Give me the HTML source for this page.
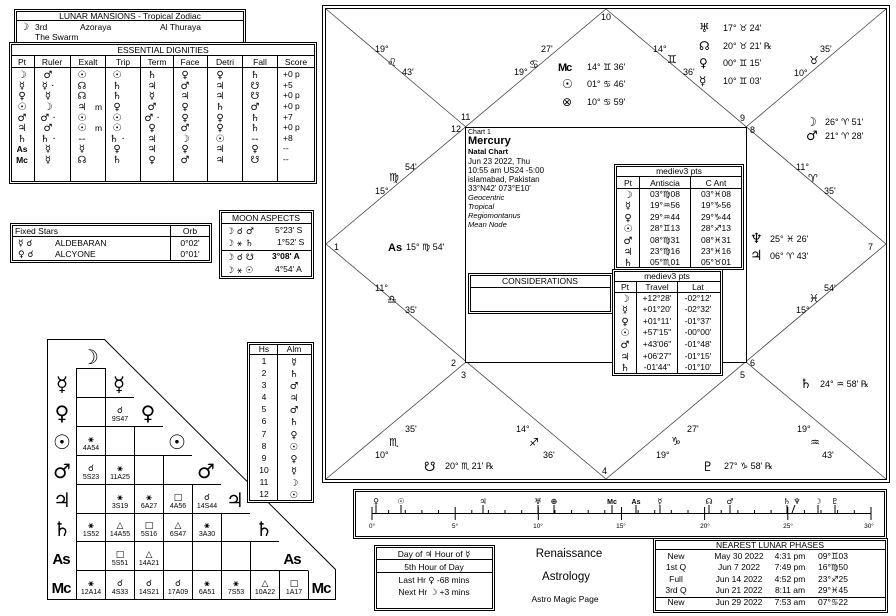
<!DOCTYPE html>
<html><head><meta charset="utf-8"><style>
html,body{margin:0;padding:0;background:#fff;}
svg{display:block;font-family:"Liberation Sans","DejaVu Sans",sans-serif;}
.g{font-family:"DejaVu Sans",sans-serif;}
text{fill:#000;}
</style></head><body>
<svg width="896" height="616" viewBox="0 0 896 616" xmlns="http://www.w3.org/2000/svg" font-size="9">
<rect width="896" height="616" fill="#fff"/>

<g fill="none" stroke="#000">
<rect x="322.5" y="5.5" width="567" height="477"/>
<rect x="325.5" y="8.5" width="561" height="471"/>
</g>
<g stroke="#444" stroke-width="0.8" fill="none">
<line x1="326" y1="9" x2="466" y2="127"/>
<line x1="886" y1="9" x2="746" y2="127"/>
<line x1="326" y1="479" x2="466" y2="362"/>
<line x1="886" y1="479" x2="746" y2="362"/>
<polygon points="606,9 886,244 606,479 326,244"/>
</g>
<rect x="465.5" y="127.5" width="281" height="235" fill="#fff" stroke="#000"/>

<g font-size="9">
<text x="601" y="20">10</text>
<text x="375" y="52">19°</text><text class="g" x="387" y="66" font-size="11">♌</text><text x="402" y="75">43'</text>
<text x="541" y="52">27'</text><text class="g" x="529" y="68" font-size="11">♋</text><text x="514" y="75">19°</text>
<text x="653" y="52">14°</text><text class="g" x="667" y="63" font-size="11">♊</text><text x="683" y="75">36'</text>
<text x="820" y="52">35'</text><text class="g" x="809" y="64" font-size="11">♉</text><text x="794" y="76">10°</text>

<text x="558" y="71" font-size="11" font-weight="bold" style="letter-spacing:-1px">Mc</text><text x="587" y="70">14°  ♊  36'</text>
<text class="g" x="562" y="88" font-size="12">☉</text><text x="587" y="87">01°  ♋  46'</text>
<text class="g" x="562" y="106" font-size="12">⊗</text><text x="587" y="105">10°  ♋  59'</text>

<text class="g" x="699" y="32" font-size="12">♅</text><text x="723" y="31">17°  ♉  24'</text>
<text class="g" x="699" y="50" font-size="12">☊</text><text x="723" y="49">20°  ♉  21' ℞</text>
<text class="g" x="699" y="67" font-size="12">♀</text><text x="723" y="66">00°  ♊  15'</text>
<text class="g" x="699" y="85" font-size="12">☿</text><text x="723" y="84">10°  ♊  03'</text>

<text x="461" y="120">11</text><text x="451" y="132">12</text>
<text x="740" y="121">9</text><text x="750" y="133">8</text>

<text class="g" x="806" y="126" font-size="12">☽</text><text x="825" y="125">26° ♈ 51'</text>
<text class="g" x="806" y="140" font-size="13">♂</text><text x="825" y="139">21° ♈ 28'</text>

<text x="405" y="170">54'</text><text class="g" x="389" y="181" font-size="11">♍</text><text x="375" y="194">15°</text>
<text x="796" y="170">11°</text><text class="g" x="808" y="182" font-size="11">♈</text><text x="824" y="194">35'</text>

<text x="334" y="250">1</text><text x="868" y="250">7</text>
<text x="388" y="251" font-size="11" font-weight="bold">As</text><text x="406" y="250">15° ♍ 54'</text>
<text class="g" x="750" y="243" font-size="14">♆</text><text x="770" y="242">25° ♓ 26'</text>
<text class="g" x="750" y="260" font-size="14">♃</text><text x="770" y="259">06° ♈ 43'</text>

<text x="375" y="291">11°</text><text class="g" x="387" y="303" font-size="11">♎</text><text x="405" y="313">35'</text>
<text x="824" y="291">54'</text><text class="g" x="809" y="302" font-size="11">♓</text><text x="796" y="313">15°</text>

<text x="451" y="366">2</text><text x="461" y="378">3</text>
<text x="750" y="366">6</text><text x="740" y="378">5</text>
<text class="g" x="800" y="388" font-size="13">♄</text><text x="820" y="387">24° ♒ 58' ℞</text>

<text x="405" y="432">35'</text><text class="g" x="389" y="446" font-size="11">♏</text><text x="375" y="458">10°</text>
<text x="516" y="432">14°</text><text class="g" x="529" y="446" font-size="11">♐</text><text x="543" y="458">36'</text>
<text x="687" y="432">27'</text><text class="g" x="671" y="445" font-size="11">♑</text><text x="656" y="458">19°</text>
<text x="797" y="432">19°</text><text class="g" x="810" y="446" font-size="11">♒</text><text x="822" y="458">43'</text>

<text class="g" x="424" y="471" font-size="13">☋</text><text x="445" y="469">20° ♏ 21' ℞</text>
<text class="g" x="702" y="471" font-size="13">♇</text><text x="724" y="469">27° ♑ 58' ℞</text>
<text x="602" y="474">4</text>
</g>

<g>
<text x="468" y="134" font-size="7">Chart 1</text>
<text x="468" y="144" font-size="11" font-weight="bold">Mercury</text>
<text x="468" y="154" font-size="7.5" font-weight="bold">Natal Chart</text>
<text x="468" y="164" font-size="8">Jun 23 2022, Thu</text>
<text x="468" y="173" font-size="8">10:55 am  US24 -5:00</text>
<text x="468" y="182" font-size="8">islamabad, Pakistan</text>
<text x="468" y="191" font-size="8">33°N42' 073°E10'</text>
<text x="468" y="200" font-size="7.5" font-style="italic">Geocentric</text>
<text x="468" y="209" font-size="7.5" font-style="italic">Tropical</text>
<text x="468" y="218" font-size="7.5" font-style="italic">Regiomontanus</text>
<text x="468" y="227" font-size="7.5" font-style="italic">Mean Node</text>
</g>

<rect x="468.5" y="273.5" width="144" height="40" fill="#fff" stroke="#000"/>
<rect x="470.5" y="275.5" width="140" height="36" fill="none" stroke="#000"/>
<line x1="470" y1="287.5" x2="611" y2="287.5" stroke="#000"/>
<text x="540" y="284" font-size="8.5" text-anchor="middle">CONSIDERATIONS</text>

<rect x="614.5" y="164.5" width="129" height="105" fill="#fff" stroke="#000"/>
<rect x="616.5" y="166.5" width="125" height="101" fill="none" stroke="#000"/>
<g stroke="#000"><line x1="617" y1="176.5" x2="741" y2="176.5"/><line x1="617" y1="188.5" x2="741" y2="188.5"/>
<line x1="639.5" y1="177" x2="639.5" y2="267"/><line x1="690.5" y1="177" x2="690.5" y2="267"/></g>
<g font-size="8.5" text-anchor="middle">
<text x="679" y="174">mediev3 pts</text>
<text x="628" y="186">Pt</text><text x="665" y="186">Antiscia</text><text x="716" y="186">C Ant</text>
</g>
<g class="g" font-size="10" text-anchor="middle" font-weight="bold">
<text x="628" y="198">☽</text><text x="628" y="209">☿</text><text x="628" y="221">♀</text><text x="628" y="232">☉</text><text x="628" y="244">♂</text><text x="628" y="255">♃</text><text x="628" y="266">♄</text>
</g>
<g font-size="8.5" text-anchor="middle">
<text x="665" y="197">03°♍08</text><text x="716" y="197">03°♓08</text>
<text x="665" y="208">19°♒56</text><text x="716" y="208">19°♑56</text>
<text x="665" y="220">29°♒44</text><text x="716" y="220">29°♑44</text>
<text x="665" y="231">28°♊13</text><text x="716" y="231">28°♐13</text>
<text x="665" y="243">08°♍31</text><text x="716" y="243">08°♓31</text>
<text x="665" y="254">23°♍16</text><text x="716" y="254">23°♓16</text>
<text x="665" y="265">05°♏01</text><text x="716" y="265">05°♉01</text>
</g>

<rect x="612.5" y="269.5" width="110" height="106" fill="#fff" stroke="#000"/>
<rect x="614.5" y="271.5" width="106" height="102" fill="none" stroke="#000"/>
<g stroke="#000"><line x1="615" y1="281.5" x2="720" y2="281.5"/><line x1="615" y1="292.5" x2="720" y2="292.5"/>
<line x1="636.5" y1="282" x2="636.5" y2="373"/><line x1="677.5" y1="282" x2="677.5" y2="373"/></g>
<g font-size="8.5" text-anchor="middle">
<text x="667" y="279">mediev3 pts</text>
<text x="625" y="290">Pt</text><text x="657" y="290">Travel</text><text x="698" y="290">Lat</text>
</g>
<g class="g" font-size="10" text-anchor="middle" font-weight="bold">
<text x="625" y="302">☽</text><text x="625" y="313">☿</text><text x="625" y="325">♀</text><text x="625" y="336">☉</text><text x="625" y="348">♂</text><text x="625" y="360">♃</text><text x="625" y="371">♄</text>
</g>
<g font-size="8.5" text-anchor="middle">
<text x="657" y="301">+12°28'</text><text x="698" y="301">-02°12'</text>
<text x="657" y="312">+01°20'</text><text x="698" y="312">-02°32'</text>
<text x="657" y="324">+01°11'</text><text x="698" y="324">-01°37'</text>
<text x="657" y="335">+57'15"</text><text x="698" y="335">-00°00'</text>
<text x="657" y="347">+43'06"</text><text x="698" y="347">-01°48'</text>
<text x="657" y="359">+06'27"</text><text x="698" y="359">-01°15'</text>
<text x="657" y="370">-01'44"</text><text x="698" y="370">-01°10'</text>
</g>

<rect x="14.5" y="9.5" width="231" height="36" fill="#fff" stroke="#000"/>
<rect x="16.5" y="11.5" width="227" height="32" fill="none" stroke="#000"/>
<line x1="17" y1="20.5" x2="243" y2="20.5" stroke="#000"/>
<text x="130" y="19" font-size="8.5" text-anchor="middle">LUNAR MANSIONS - Tropical Zodiac</text>
<text class="g" x="20" y="30" font-size="10" font-weight="bold">☽</text>
<text x="35" y="30" font-size="8.5">3rd</text><text x="80" y="30" font-size="8.5">Azoraya</text><text x="160" y="30" font-size="8.5">Al Thuraya</text>
<text x="35" y="40" font-size="8.5">The Swarm</text>

<rect x="9.5" y="42.5" width="307" height="141" fill="#fff" stroke="#000"/>
<rect x="11.5" y="44.5" width="303" height="137" fill="none" stroke="#000"/>
<g stroke="#000">
<line x1="12" y1="55.5" x2="314" y2="55.5"/><line x1="12" y1="67.5" x2="314" y2="67.5"/>
<line x1="34.5" y1="56" x2="34.5" y2="181"/><line x1="70.5" y1="56" x2="70.5" y2="181"/>
<line x1="105.5" y1="56" x2="105.5" y2="181"/><line x1="140.5" y1="56" x2="140.5" y2="181"/>
<line x1="173.5" y1="56" x2="173.5" y2="181"/><line x1="207.5" y1="56" x2="207.5" y2="181"/>
<line x1="242.5" y1="56" x2="242.5" y2="181"/><line x1="277.5" y1="56" x2="277.5" y2="181"/>
</g>
<text x="163" y="53" font-size="8.5" text-anchor="middle">ESSENTIAL DIGNITIES</text>
<g font-size="8.5" text-anchor="middle">
<text x="22" y="65">Pt</text><text x="52" y="65">Ruler</text><text x="88" y="65">Exalt</text><text x="123" y="65">Trip</text><text x="157" y="65">Term</text><text x="190" y="65">Face</text><text x="225" y="65">Detri</text><text x="260" y="65">Fall</text><text x="296" y="65">Score</text>
</g>
<g class="g" font-size="10" text-anchor="middle">
<text x="22" y="78" font-weight="bold">☽</text><text x="22" y="89" font-weight="bold">☿</text><text x="22" y="99" font-weight="bold">♀</text><text x="22" y="110" font-weight="bold">☉</text><text x="22" y="121" font-weight="bold">♂</text><text x="22" y="131" font-weight="bold">♃</text><text x="22" y="142" font-weight="bold">♄</text>
<text x="22" y="152" font-family="Liberation Sans" font-weight="bold" font-size="8.5">As</text><text x="22" y="163" font-family="Liberation Sans" font-weight="bold" font-size="8.5">Mc</text>
<text x="48" y="78">♂</text><text x="82" y="78">☉</text><text x="117" y="78">☉</text><text x="152" y="78">♄</text><text x="185" y="78">♀</text><text x="220" y="78">♀</text><text x="255" y="78">♄</text>
<text x="48" y="89">☿ ·</text><text x="82" y="89">☊</text><text x="117" y="89">♄</text><text x="152" y="89">♃</text><text x="185" y="89">♂</text><text x="220" y="89">♃</text><text x="255" y="89">☋</text>
<text x="48" y="99">☿</text><text x="82" y="99">☊</text><text x="117" y="99">♄</text><text x="152" y="99">☿</text><text x="185" y="99">♃</text><text x="220" y="99">♃</text><text x="255" y="99">☋</text>
<text x="48" y="110">☽</text><text x="82" y="110">♃</text><text x="117" y="110">♀</text><text x="152" y="110">♂</text><text x="185" y="110">♀</text><text x="220" y="110">♄</text><text x="255" y="110">♂</text>
<text x="48" y="121">♂ ·</text><text x="82" y="121">☉</text><text x="117" y="121">☉</text><text x="152" y="121">♂ ·</text><text x="185" y="121">♀</text><text x="220" y="121">♀</text><text x="255" y="121">♄</text>
<text x="48" y="131">♂</text><text x="82" y="131">☉</text><text x="117" y="131">☉</text><text x="152" y="131">♀</text><text x="185" y="131">♂</text><text x="220" y="131">♀</text><text x="255" y="131">♄</text>
<text x="48" y="142">♄ ·</text><text x="82" y="142">--</text><text x="117" y="142">♄ ·</text><text x="152" y="142">♃</text><text x="185" y="142">☽</text><text x="220" y="142">☉</text><text x="255" y="142">--</text>
<text x="48" y="152">☿</text><text x="82" y="152">☿</text><text x="117" y="152">♀</text><text x="152" y="152">♃</text><text x="185" y="152">♀</text><text x="220" y="152">♃</text><text x="255" y="152">♀</text>
<text x="48" y="163">☿</text><text x="82" y="163">☊</text><text x="117" y="163">♄</text><text x="152" y="163">♀</text><text x="185" y="163">♂</text><text x="220" y="163">♃</text><text x="255" y="163">☋</text>
</g>
<g font-size="8.5">
<text x="95" y="110">m</text><text x="95" y="131">m</text>
<text x="283" y="77">+0  p</text><text x="283" y="88">+5</text><text x="283" y="98">+0  p</text><text x="283" y="109">+0  p</text><text x="283" y="120">+7</text><text x="283" y="130">+0  p</text><text x="283" y="141">+8</text><text x="283" y="151">--</text><text x="283" y="162">--</text>
</g>

<rect x="10.5" y="223.5" width="201" height="39" fill="#fff" stroke="#000"/>
<rect x="12.5" y="225.5" width="197" height="35" fill="none" stroke="#000"/>
<line x1="13" y1="236.5" x2="209" y2="236.5" stroke="#000"/><line x1="170.5" y1="226" x2="170.5" y2="260" stroke="#000"/>
<text x="15" y="234" font-size="8.5">Fixed Stars</text><text x="190" y="234" font-size="8.5" text-anchor="middle">Orb</text>
<text class="g" x="18" y="246" font-size="9">☿   ☌</text><text x="55" y="246" font-size="8.5">ALDEBARAN</text><text x="190" y="246" font-size="8.5" text-anchor="middle">0°02'</text>
<text class="g" x="18" y="257" font-size="9">♀   ☌</text><text x="55" y="257" font-size="8.5">ALCYONE</text><text x="190" y="257" font-size="8.5" text-anchor="middle">0°01'</text>

<rect x="219.5" y="210.5" width="94" height="68" fill="#fff" stroke="#000"/>
<rect x="221.5" y="212.5" width="90" height="64" fill="none" stroke="#000"/>
<line x1="222" y1="223.5" x2="311" y2="223.5" stroke="#000"/><line x1="222" y1="250.5" x2="311" y2="250.5" stroke="#000"/>
<text x="266" y="221" font-size="8.5" text-anchor="middle">MOON ASPECTS</text>
<g class="g" font-size="9"><text x="226" y="234">☽ ☌ ♂</text><text x="226" y="246">☽ ⚹ ♄</text><text x="226" y="260">☽ ☌ ☋</text><text x="226" y="273">☽ ⚹ ☉</text></g>
<g font-size="8.5"><text x="275" y="233">5°23' S</text><text x="277" y="245">1°52' S</text><text x="272" y="259" font-weight="bold">3°08' A</text><text x="275" y="272">4°54' A</text></g>

<polygon points="47.5,339.5 104.5,339.5 335.5,569.5 335.5,599.5 47.5,599.5" fill="#fff" stroke="#000"/>
<g stroke="#000" fill="none">
<rect x="76.5" y="368.5" width="29" height="231"/>
<path d="M105.5 397.5V599.5 M134.5 426.5V599.5 M163.5 455.5V599.5 M192.5 484.5V599.5 M221.5 513.5V599.5 M250.5 541.5V599.5 M279.5 570.5V599.5 M308.5 570.5V599.5"/>
<path d="M76 397.5H134 M76 426.5H163 M76 455.5H192 M76 484.5H221 M76 513.5H250 M76 541.5H279 M76 570.5H308"/>
</g>
<g class="g" font-weight="bold" font-size="20" text-anchor="middle">
<text x="90" y="364">☽</text>
<text x="62" y="391">☿</text><text x="119" y="391">☿</text>
<text x="62" y="420">♀</text><text x="148" y="420">♀</text>
<text x="62" y="449">☉</text><text x="177" y="449">☉</text>
<text x="62" y="478">♂</text><text x="206" y="478">♂</text>
<text x="62" y="507">♃</text><text x="235" y="507">♃</text>
<text x="62" y="536">♄</text><text x="264" y="536">♄</text>
</g>
<g font-weight="bold" font-size="15" text-anchor="middle" font-family="Liberation Sans" style="letter-spacing:-1px">
<text x="61" y="564">As</text><text x="292" y="564">As</text>
<text x="61" y="593">Mc</text><text x="321" y="593">Mc</text>
</g>
<g text-anchor="middle">
<g class="g" font-size="9" font-weight="bold">
<text x="120" y="413">☌</text>
<text x="91" y="442">⚹</text>
<text x="91" y="471">☌</text><text x="120" y="471">⚹</text>
<text x="120" y="500">⚹</text><text x="149" y="500">⚹</text><text x="178" y="500">□</text><text x="207" y="500">☌</text>
<text x="91" y="528">⚹</text><text x="120" y="528">△</text><text x="149" y="528">□</text><text x="178" y="528">△</text><text x="207" y="528">⚹</text>
<text x="120" y="557">□</text><text x="149" y="557">△</text>
<text x="91" y="586">⚹</text><text x="120" y="586">☌</text><text x="149" y="586">☌</text><text x="178" y="586">☌</text><text x="207" y="586">⚹</text><text x="236" y="586">⚹</text><text x="265" y="586">△</text><text x="294" y="586">□</text>
</g>
<g font-size="7">
<text x="120" y="421">9S47</text>
<text x="91" y="450">4A54</text>
<text x="91" y="479">5S23</text><text x="120" y="479">11A25</text>
<text x="120" y="508">3S19</text><text x="149" y="508">6A27</text><text x="178" y="508">4A56</text><text x="207" y="508">14S44</text>
<text x="91" y="536">1S52</text><text x="120" y="536">14A55</text><text x="149" y="536">5S16</text><text x="178" y="536">6S47</text><text x="207" y="536">3A30</text>
<text x="120" y="565">5S51</text><text x="149" y="565">14A21</text>
<text x="91" y="594">12A14</text><text x="120" y="594">4S33</text><text x="149" y="594">14S21</text><text x="178" y="594">17A09</text><text x="207" y="594">6A51</text><text x="236" y="594">7S53</text><text x="265" y="594">10A22</text><text x="294" y="594">1A17</text>
</g>
</g>

<rect x="247.5" y="342.5" width="66" height="160" fill="#fff" stroke="#000"/>
<rect x="249.5" y="344.5" width="62" height="156" fill="none" stroke="#000"/>
<line x1="250" y1="354.5" x2="311" y2="354.5" stroke="#000"/><line x1="277.5" y1="345" x2="277.5" y2="500" stroke="#000"/>
<g font-size="8.5" text-anchor="middle">
<text x="264" y="352">Hs</text><text x="294" y="352">Alm</text>
<text x="264" y="364">1</text><text x="264" y="376">2</text><text x="264" y="388">3</text><text x="264" y="400">4</text><text x="264" y="412">5</text><text x="264" y="424">6</text><text x="264" y="437">7</text><text x="264" y="449">8</text><text x="264" y="461">9</text><text x="264" y="473">10</text><text x="264" y="485">11</text><text x="264" y="497">12</text>
</g>
<g class="g" font-size="9.5" text-anchor="middle">
<text x="294" y="365">☿</text><text x="294" y="377">♄</text><text x="294" y="389">♂</text><text x="294" y="401">♃</text><text x="294" y="413">♂</text><text x="294" y="425">♄</text><text x="294" y="438">♀</text><text x="294" y="450">☉</text><text x="294" y="462">♀</text><text x="294" y="474">☿</text><text x="294" y="486">☽</text><text x="294" y="498">☉</text>
</g>

<rect x="353.5" y="489.5" width="533" height="49" fill="#fff" stroke="#000"/>
<rect x="355.5" y="491.5" width="529" height="45" fill="none" stroke="#000"/>
<g stroke="#000" stroke-width="1">
<line x1="372" y1="513.5" x2="871" y2="513.5"/>
<path d="M388.6 510V514 M405.3 510V514 M421.9 510V514 M438.5 510V514 M471.8 510V514 M488.4 510V514 M505 510V514 M521.7 510V514 M554.9 510V514 M571.6 510V514 M588.2 510V514 M604.8 510V514 M638.1 510V514 M654.7 510V514 M671.3 510V514 M688 510V514 M721.2 510V514 M737.9 510V514 M754.5 510V514 M771.1 510V514 M804.4 510V514 M821 510V514 M837.6 510V514 M854.3 510V514"/>
<path d="M372 507V520 M455.2 507V520 M538.3 507V520 M621.5 507V520 M704.6 507V520 M787.8 507V520 M871 507V520"/>
<path d="M376 505V513 M401 505V513 M483 505V513 M538 505V513 M554 505V513 M612 505V513 M636 505V513 M660 505V513 M709 505V513 M730 505V513 M787 505V513 M795 505L792 513 M818 505V513 M835 505V513"/>
</g>
<g class="g" font-size="8" font-weight="bold" text-anchor="middle">
<text x="376" y="504" fill="#642">♀</text><text x="401" y="504">☉</text><text x="483" y="504">♃</text><text x="538" y="504">♅</text><text x="554" y="504">⊕</text>
<text x="612" y="504" font-family="Liberation Sans" font-size="7">Mc</text><text x="636" y="504" font-family="Liberation Sans" font-size="7">As</text><text x="660" y="504">☿</text><text x="709" y="504">☊</text><text x="730" y="504">♂</text>
<text x="787" y="504">♄</text><text x="797" y="504">♆</text><text x="818" y="504">☽</text><text x="835" y="504">♇</text>
</g>
<g font-size="6.5" text-anchor="middle">
<text x="372" y="528" fill="#c80">0°</text><text x="455" y="528" fill="#c80">5°</text><text x="538" y="528" fill="#28b">10°</text><text x="621" y="528" fill="#c80">15°</text><text x="705" y="528" fill="#c80">20°</text><text x="788" y="528" fill="#28b">25°</text><text x="869" y="528" fill="#c80">30°</text>
</g>

<rect x="374.5" y="545.5" width="120" height="65" fill="#fff" stroke="#000"/>
<rect x="376.5" y="547.5" width="116" height="61" fill="none" stroke="#000"/>
<line x1="377" y1="559.5" x2="492" y2="559.5" stroke="#000"/><line x1="377" y1="572.5" x2="492" y2="572.5" stroke="#000"/>
<g font-size="8.5" text-anchor="middle">
<text x="434" y="557">Day of <tspan class="g" font-weight="bold">♃</tspan>  Hour of <tspan class="g" font-weight="bold">☿</tspan></text>
<text x="434" y="570">5th Hour of Day</text>
<text x="434" y="583">Last Hr <tspan class="g">♀</tspan>  -68 mins</text>
<text x="434" y="595">Next Hr <tspan class="g">☽</tspan>  +3 mins</text>
</g>

<text x="569" y="557" font-size="11.5" text-anchor="middle">Renaissance</text>
<text x="566" y="580" font-size="11.5" text-anchor="middle">Astrology</text>
<text x="565" y="602" font-size="8.5" text-anchor="middle">Astro Magic Page</text>

<rect x="653.5" y="538.5" width="234" height="74" fill="#fff" stroke="#000"/>
<rect x="655.5" y="540.5" width="230" height="70" fill="none" stroke="#000"/>
<line x1="656" y1="549.5" x2="885" y2="549.5" stroke="#000"/><line x1="656" y1="597.5" x2="885" y2="597.5" stroke="#000"/>
<text x="770" y="548" font-size="8.5" text-anchor="middle">NEAREST LUNAR PHASES</text>
<g font-size="8.5">
<text x="676" y="559" text-anchor="middle">New</text><text x="739" y="559" text-anchor="middle">May 30 2022</text><text x="790" y="559" text-anchor="middle">4:31 pm</text><text x="818" y="559">09°♊03</text>
<text x="676" y="570" text-anchor="middle">1st Q</text><text x="739" y="570" text-anchor="middle">Jun 7 2022</text><text x="790" y="570" text-anchor="middle">7:49 pm</text><text x="818" y="570">16°♍50</text>
<text x="676" y="582" text-anchor="middle">Full</text><text x="739" y="582" text-anchor="middle">Jun 14 2022</text><text x="790" y="582" text-anchor="middle">4:52 pm</text><text x="818" y="582">23°♐25</text>
<text x="676" y="593" text-anchor="middle">3rd Q</text><text x="739" y="593" text-anchor="middle">Jun 21 2022</text><text x="790" y="593" text-anchor="middle">8:11 am</text><text x="818" y="593">29°♓45</text>
<text x="676" y="605" text-anchor="middle">New</text><text x="739" y="605" text-anchor="middle">Jun 29 2022</text><text x="790" y="605" text-anchor="middle">7:53 am</text><text x="818" y="605">07°♋22</text>
</g>
</svg>
</body></html>
